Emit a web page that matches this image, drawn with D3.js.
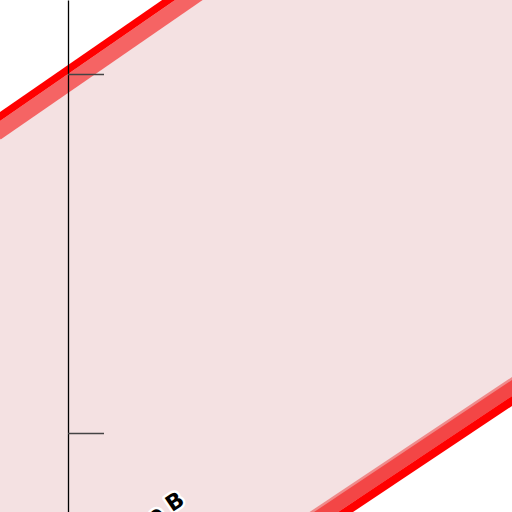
<!DOCTYPE html>
<html>
<head>
<meta charset="utf-8">
<script src="https://cdn.jsdelivr.net/npm/d3@7"></script>
<style>
  html, body { margin: 0; padding: 0; background: #fff; }
  svg { display: block; }
</style>
</head>
<body>
<script>
// ---- data ----
const xValues = [-2, 14];
const upperValues = [18.62, 29.66];
const lowerValues = [1.45, 12.12];
const yTicks = [10, 20];
const labelText = "Zone B";

// ---- layout ----
const W = 512, H = 512;
const svg = d3.select("body").append("svg").attr("width", W).attr("height", H);

const x = d3.scaleLinear().domain([0, 10]).range([68, 427]);
const y = d3.scaleLinear().domain([7.8, 22.06]).range([512, 0]);

const upper = xValues.map((v, i) => ({ x: v, y: upperValues[i] }));
const lower = xValues.map((v, i) => ({ x: v, y: lowerValues[i] }));
const band = xValues.map((v, i) => ({ x: v, y0: lowerValues[i], y1: upperValues[i] }));

const line = d3.line().x(d => x(d.x)).y(d => y(d.y));
const area = d3.area().x(d => x(d.x)).y0(d => y(d.y0)).y1(d => y(d.y1));

// fill
svg.append("path").datum(band).attr("d", area).attr("fill", "#f4e1e2");

// upper boundary: light red inside, pure red outside
svg.append("path").datum(upper).attr("d", line)
  .attr("transform", "translate(0,9.5)")
  .attr("fill", "none").attr("stroke", "#f56464").attr("stroke-width", 15.6);
svg.append("path").datum(upper).attr("d", line)
  .attr("transform", "translate(0,-4.5)")
  .attr("fill", "none").attr("stroke", "#ff0000").attr("stroke-width", 7.4);

// lower boundary
svg.append("path").datum(lower).attr("d", line)
  .attr("transform", "translate(0,-9.5)")
  .attr("fill", "none").attr("stroke", "#f08a8a").attr("stroke-width", 15.8);
svg.append("path").datum(lower).attr("d", line)
  .attr("transform", "translate(0,-8)")
  .attr("fill", "none").attr("stroke", "#f34646").attr("stroke-width", 13.3);
svg.append("path").datum(lower).attr("d", line)
  .attr("transform", "translate(0,5)")
  .attr("fill", "none").attr("stroke", "#ff0000").attr("stroke-width", 8.3);

// axis
const axis = d3.axisRight(y).tickValues(yTicks).tickSize(36).tickSizeOuter(0).tickFormat("");
const ag = svg.append("g").attr("transform", `translate(${x(0)},0)`).call(axis);
ag.select(".domain").attr("stroke", "#000").attr("stroke-width", 1.3);
ag.selectAll(".tick line").attr("stroke", "#444").attr("stroke-width", 1.5);

// label
svg.append("text")
  .attr("transform", "translate(186,503) rotate(-34)")
  .attr("text-anchor", "end")
  .attr("font-family", "DejaVu Sans, sans-serif")
  .attr("font-weight", "bold")
  .attr("font-size", 22)
  .attr("fill", "#000")
  .attr("stroke", "#fff")
  .attr("stroke-width", 5)
  .attr("stroke-linejoin", "round")
  .attr("paint-order", "stroke")
  .text(labelText);
</script>
</body>
</html>
